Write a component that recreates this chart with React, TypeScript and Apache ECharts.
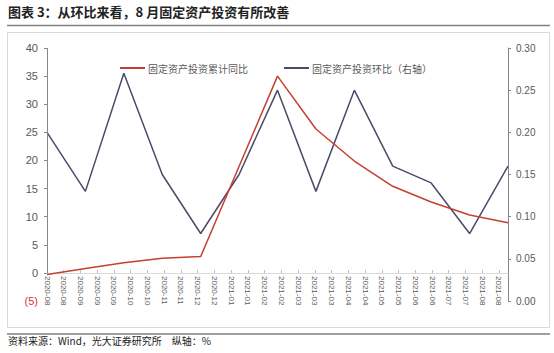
import React, { useEffect, useRef } from "react";
import * as echarts from "echarts";

const months = [
  "2020-08", "2020-09", "2020-10", "2020-11", "2020-12", "2021-01", "2021-02",
  "2021-03", "2021-04", "2021-05", "2021-06", "2021-07", "2021-08",
];
const cumulativeYoY: (number | null)[] = [-0.3, 0.8, 1.8, 2.6, 2.9, null, 35.0, 25.6, 19.9, 15.4, 12.6, 10.3, 8.9];
const momChange: number[] = [0.2, 0.13, 0.27, 0.15, 0.08, 0.15, 0.25, 0.13, 0.25, 0.16, 0.14, 0.08, 0.16];
const tickLabels = [
  "2020-08", "2020-08", "2020-09", "2020-09", "2020-09", "2020-10", "2020-10",
  "2020-11", "2020-11", "2020-12", "2020-12", "2021-01", "2021-01", "2021-02",
  "2021-02", "2021-03", "2021-03", "2021-03", "2021-04", "2021-04", "2021-05",
  "2021-05", "2021-06", "2021-06", "2021-07", "2021-07", "2021-08", "2021-08",
];
const seriesNames = ["固定资产投资累计同比", "固定资产投资环比（右轴）"];
const title = "图表 3：从环比来看，8 月固定资产投资有所改善";
const footer = "资料来源：Wind，光大证券研究所　纵轴：%";

const RED = "#C4402F";
const NAVY = "#4B4A6B";
const FONT = "'Liberation Sans', 'Noto Sans CJK SC', sans-serif";
const CJK = "'Noto Sans CJK SC', sans-serif";

export default function App() {
  const ref = useRef<HTMLDivElement>(null);
  useEffect(() => {
    const chart = echarts.init(ref.current!, null, { renderer: "svg" });
    const tickIdx = tickLabels.map((_, i) => i);
    chart.setOption({
      animation: false,
      textStyle: { fontFamily: FONT },
      graphic: [
        { type: "text", left: 8, top: 5, style: { text: title, font: `bold 13px ${CJK}`, fill: "#222" } },
        { type: "line", shape: { x1: 7, y1: 25.5, x2: 550, y2: 25.5 }, style: { stroke: "#7f7f7f", lineWidth: 1.5 } },
        { type: "rect", shape: { x: 7.5, y: 32.5, width: 542, height: 295 }, style: { fill: "none", stroke: "#d9d9d9", lineWidth: 1 } },
        { type: "line", shape: { x1: 7, y1: 334, x2: 550, y2: 334 }, style: { stroke: "#7f7f7f", lineWidth: 1.5 } },
        { type: "text", left: 8, top: 335, style: { text: footer, font: `10px ${CJK}`, fill: "#222" } },
      ],
      legend: {
        left: 115,
        top: 58,
        itemWidth: 25,
        itemHeight: 2,
        itemGap: 36,
        icon: "rect",
        textStyle: { fontSize: 10, color: "#595959", fontFamily: CJK, padding: [0, 0, 0, -2] },
        data: seriesNames,
      },
      grid: [
        { left: 47, right: 46, top: 48, bottom: 52, containLabel: false },
        { left: 47, right: 46, top: 48, bottom: 80, containLabel: false },
      ],
      xAxis: [
        {
          type: "category",
          gridIndex: 0,
          data: months,
          boundaryGap: false,
          show: false,
        },
        {
          type: "value",
          gridIndex: 1,
          min: 0,
          max: 27.54,
          position: "bottom",
          axisLine: { show: true, onZero: false, lineStyle: { color: "#d9d9d9" } },
          axisTick: { show: true, inside: true, length: 3, customValues: tickIdx, lineStyle: { color: "#bfbfbf" } },
          axisLabel: {
            customValues: tickIdx,
            rotate: -90,
            fontSize: 8,
            color: "#595959",
            margin: 3,
            formatter: (v: number) => tickLabels[Math.round(v)] ?? "",
          },
          splitLine: { show: false },
        },
      ],
      yAxis: [
        {
          type: "value",
          gridIndex: 0,
          min: -5,
          max: 40,
          interval: 5,
          axisLine: { show: false },
          axisTick: { show: true, length: 3, customValues: [0, 5, 10, 15, 20, 25, 30, 35, 40], lineStyle: { color: "#888" } },
          splitLine: { show: false },
          axisLabel: {
            fontSize: 11,
            color: "#595959",
            margin: 9,
            formatter: (v: number) => (v < 0 ? `{neg|(${Math.abs(v)})}` : String(v)),
            rich: { neg: { color: "#E0303A", fontSize: 11 } },
          },
        },
        {
          type: "value",
          gridIndex: 0,
          min: 0,
          max: 0.3,
          interval: 0.05,
          position: "right",
          axisLine: { show: true, lineStyle: { color: "#888" } },
          axisTick: { show: true, length: 3, lineStyle: { color: "#888" } },
          splitLine: { show: false },
          axisLabel: { fontSize: 10, color: "#595959", margin: 8, formatter: (v: number) => v.toFixed(2) },
        },
        {
          type: "value",
          gridIndex: 1,
          min: 0,
          max: 1,
          show: false,
        },
      ],
      series: [
        {
          name: seriesNames[0],
          type: "line",
          xAxisIndex: 0,
          yAxisIndex: 0,
          data: cumulativeYoY,
          connectNulls: true,
          symbol: "none",
          lineStyle: { color: RED, width: 1.5 },
          itemStyle: { color: RED },
          z: 3,
          markLine: {
            silent: true,
            symbol: "none",
            label: { show: false },
            lineStyle: { color: "#888", width: 1, type: "solid" },
            data: [[{ coord: [0, 0] }, { coord: [0, 40] }]],
          },
        },
        {
          name: seriesNames[1],
          type: "line",
          xAxisIndex: 0,
          yAxisIndex: 1,
          data: momChange,
          symbol: "none",
          lineStyle: { color: NAVY, width: 1.5 },
          itemStyle: { color: NAVY },
          z: 2,
        },
      ],
    });
    return () => chart.dispose();
  }, []);
  return (
    <div
      ref={ref}
      style={{ position: "fixed", left: 0, top: 0, width: 554, height: 353, background: "#fff" }}
    />
  );
}
